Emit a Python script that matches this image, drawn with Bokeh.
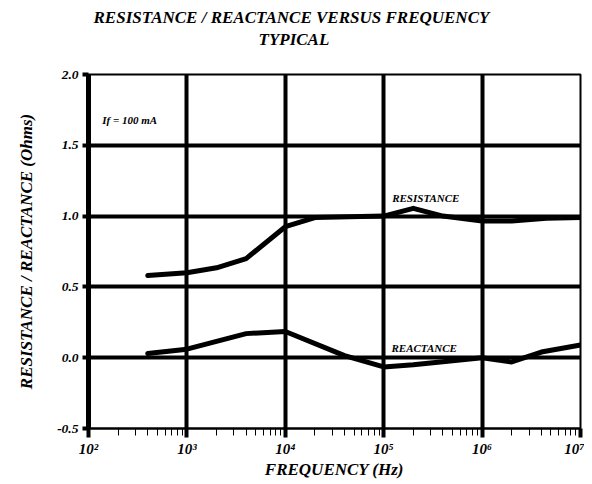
from bokeh.plotting import figure
from bokeh.models import Title, Label, FixedTicker, Range1d, PrintfTickFormatter
from bokeh.embed import file_html
from bokeh.resources import INLINE

# ---- data ----
res_freq = [400, 1000, 2000, 4000, 10000, 20000, 100000, 200000, 400000, 1e6, 2e6, 4.5e6, 1e7]
res_ohm = [0.58, 0.60, 0.635, 0.70, 0.925, 0.99, 1.0, 1.055, 1.0, 0.965, 0.965, 0.985, 0.99]
rea_freq = [400, 1000, 4000, 10000, 40000, 100000, 200000, 1e6, 2e6, 4e6, 1e7]
rea_ohm = [0.03, 0.06, 0.17, 0.185, 0.015, -0.065, -0.05, 0.0, -0.03, 0.04, 0.09]

x_major = [100, 1000, 10000, 100000, 1000000, 10000000]
x_labels = ["10\u00b2", "10\u00b3", "10\u2074", "10\u2075", "10\u2076", "10\u2077"]
x_minor = [m * d for d in x_major[:-1] for m in range(2, 10)]
y_major = [-0.5, 0.0, 0.5, 1.0, 1.5, 2.0]
y_grid = [0.0, 0.5, 1.0, 1.5]

title1 = "RESISTANCE / REACTANCE VERSUS FREQUENCY"
title2 = "TYPICAL"
x_title = "FREQUENCY (Hz)"
y_title = "RESISTANCE / REACTANCE (Ohms)"
note = "If = 100 mA"

FONT = "Liberation Serif"

p = figure(x_axis_type="log", output_backend="svg", toolbar_location=None,
           frame_width=492, frame_height=354,
           x_range=Range1d(100, 1e7), y_range=Range1d(-0.5, 2.0),
           min_border_left=88, min_border_right=4, min_border_top=74, min_border_bottom=10,
           background_fill_color="white", border_fill_color="white")

p.title = None
title_kw = dict(text_font="Liberation Serif", text_font_size="17px",
                text_font_style="bold italic", text_color="black")
spacer = Title(text=" ", align="left", standoff=4, **title_kw)
t2 = Title(text=title2, align="left", offset=170, standoff=2, **title_kw)
t1 = Title(text=title1, align="left", offset=5, standoff=0, **title_kw)
p.add_layout(spacer, "above")
p.add_layout(t2, "above")
p.add_layout(t1, "above")

p.outline_line_color = "black"
p.outline_line_width = 2
p.outline_line_alpha = 1

# axes
xa = p.xaxis[0]
xa.ticker = FixedTicker(ticks=x_major, minor_ticks=x_minor)
xa.major_label_overrides = {int(v): l for v, l in zip(x_major, x_labels)}
xa.axis_line_width = 2
xa.axis_line_color = "black"
xa.major_tick_line_width = 4
xa.major_tick_line_color = "black"
xa.major_tick_out = 9
xa.major_tick_in = 0
xa.minor_tick_line_width = 1
xa.minor_tick_line_color = "black"
xa.minor_tick_in = 0
xa.minor_tick_out = 7
xa.major_label_text_font = FONT
xa.major_label_text_font_style = "bold italic"
xa.major_label_text_font_size = "15px"
xa.major_label_text_color = "black"
xa.major_label_standoff = 3
xa.axis_label = x_title
xa.axis_label_text_font = FONT
xa.axis_label_text_font_style = "bold italic"
xa.axis_label_text_font_size = "17px"
xa.axis_label_text_color = "black"
xa.axis_label_standoff = 0

ya = p.yaxis[0]
ya.ticker = FixedTicker(ticks=y_major)
ya.formatter = PrintfTickFormatter(format="%.1f")
ya.axis_line_width = 5
ya.axis_line_color = "black"
ya.major_tick_line_width = 4
ya.major_tick_line_color = "black"
ya.major_tick_out = 6
ya.major_tick_in = 0
ya.minor_tick_line_color = None
ya.major_label_text_font = FONT
ya.major_label_text_font_style = "bold italic"
ya.major_label_text_font_size = "13.5px"
ya.major_label_text_color = "black"
ya.major_label_standoff = 4
ya.axis_label = y_title
ya.axis_label_text_font = FONT
ya.axis_label_text_font_style = "bold italic"
ya.axis_label_text_font_size = "17px"
ya.axis_label_text_color = "black"
ya.axis_label_standoff = 18

for g in (p.xgrid[0], p.ygrid[0]):
    g.grid_line_color = "black"
    g.grid_line_width = 4
    g.grid_line_alpha = 1
p.xgrid[0].ticker = FixedTicker(ticks=x_major)
p.ygrid[0].ticker = FixedTicker(ticks=y_grid)

p.line(res_freq, res_ohm, line_width=5, line_color="black", line_cap="round", line_join="round")
p.line(rea_freq, rea_ohm, line_width=5, line_color="black", line_cap="round", line_join="round")

lab_kw = dict(text_font=FONT, text_font_style="bold italic", text_color="black")
p.add_layout(Label(x=138, y=1.68, text=note, text_font_size="11px", text_baseline="middle", **lab_kw))
p.add_layout(Label(x=1.22e5, y=1.125, text="RESISTANCE", text_font_size="11px", text_baseline="middle", **lab_kw))
p.add_layout(Label(x=1.2e5, y=0.07, text="REACTANCE", text_font_size="11px", text_baseline="middle", **lab_kw))

open("out.html", "w").write(file_html(p, INLINE))
